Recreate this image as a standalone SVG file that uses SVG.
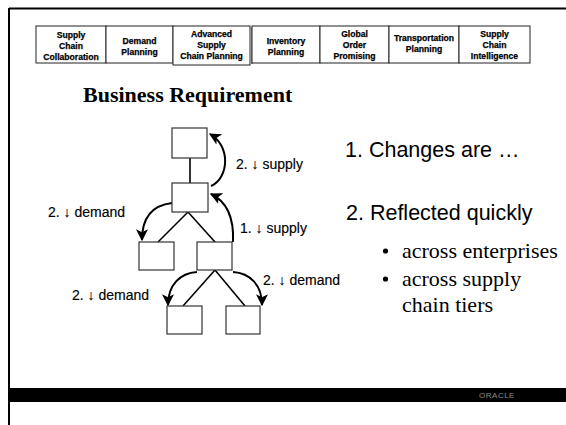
<svg xmlns="http://www.w3.org/2000/svg" width="566" height="425" viewBox="0 0 566 425">
<style>
.tab{fill:#fff;stroke:#222;stroke-width:1}
.tt{font-family:"Liberation Sans",Arial,sans-serif;font-weight:bold;font-size:8.6px;text-anchor:middle;fill:#000;stroke:#000;stroke-width:0.25}
.box{fill:#fff;stroke:#333;stroke-width:1.2}
.tree{stroke:#000;stroke-width:1.6;fill:none}
.arr{stroke:#000;stroke-width:2;fill:none;marker-end:url(#ah)}
.lbl{font-family:"Liberation Sans",Arial,sans-serif;font-size:14px;fill:#000;stroke:#000;stroke-width:0.15}
.big{font-family:"Liberation Sans",Arial,sans-serif;font-size:21.5px;fill:#000}
.ser{font-family:"Liberation Serif","Times New Roman",serif;font-size:22px;fill:#000}
</style>
<defs>
<marker id="ah" viewBox="0 0 10 10" refX="9" refY="5" markerWidth="6" markerHeight="6" orient="auto" markerUnits="strokeWidth">
<path d="M0,0 L10,5 L0,10 L2.5,5 Z" fill="#000"/>
</marker>
</defs>
<rect width="566" height="425" fill="#fff"/>
<g id="frame">
<line x1="9" y1="8.5" x2="566" y2="8.5" stroke="#000" stroke-width="2"/>
<line x1="9" y1="8" x2="9" y2="425" stroke="#000" stroke-width="2"/>
<rect x="9" y="388" width="557" height="14" fill="#000"/>
<text x="497" y="398" font-family="Liberation Sans,Arial,sans-serif" font-size="8" fill="#8a8a8a" text-anchor="middle" letter-spacing="0.5">ORACLE</text>
</g>
<g id="tabs">
<g id="tab1"><rect class="tab" x="36" y="26" width="70" height="37"/><text class="tt" x="71" y="38">Supply</text><text class="tt" x="71" y="49">Chain</text><text class="tt" x="71" y="60">Collaboration</text></g>
<g id="tab2"><rect class="tab" x="106" y="26" width="67" height="37"/><text class="tt" x="139.5" y="44">Demand</text><text class="tt" x="139.5" y="55">Planning</text></g>
<g id="tab3"><rect class="tab" x="173" y="26" width="77" height="39" stroke-width="1.4"/><line x1="252" y1="27" x2="252" y2="64" stroke="#222" stroke-width="1"/><text class="tt" x="211.5" y="37">Advanced</text><text class="tt" x="211.5" y="48">Supply</text><text class="tt" x="211.5" y="59">Chain Planning</text></g>
<g id="tab4"><rect class="tab" x="252" y="26" width="68" height="37"/><text class="tt" x="286" y="44">Inventory</text><text class="tt" x="286" y="55">Planning</text></g>
<g id="tab5"><rect class="tab" x="320" y="26" width="69" height="37"/><text class="tt" x="354.5" y="37">Global</text><text class="tt" x="354.5" y="48">Order</text><text class="tt" x="354.5" y="59">Promising</text></g>
<g id="tab6"><rect class="tab" x="389" y="26" width="70" height="37"/><text class="tt" x="424" y="41">Transportation</text><text class="tt" x="424" y="52">Planning</text></g>
<g id="tab7"><rect class="tab" x="459" y="26" width="71" height="37"/><text class="tt" x="494.5" y="37">Supply</text><text class="tt" x="494.5" y="48">Chain</text><text class="tt" x="494.5" y="59">Intelligence</text></g>
</g>
<text x="83" y="102" font-family="Liberation Serif,'Times New Roman',serif" font-weight="bold" font-size="22px">Business Requirement</text>
<g id="connectors">
<path class="tree" d="M190,158 L190,183"/>
<path class="tree" d="M188,212 L158,242"/>
<path class="tree" d="M188,212 L215,242"/>
<path class="tree" d="M215,270 L183,306"/>
<path class="tree" d="M215,270 L245,306"/>
<path class="arr" d="M211,186 C229,178 231,146 210,134"/>
<path class="arr" d="M233,242 C234,220 228,202 211,194"/>
<path class="arr" d="M172,203 C155,205 142,215 142,240"/>
<path class="arr" d="M197,272 C180,273 168,285 168,305"/>
<path class="arr" d="M233,272 C250,273 262,285 262,305"/>
<text class="lbl" x="236" y="169">2. ↓ supply</text>
<text class="lbl" x="240" y="233">1. ↓ supply</text>
<text class="lbl" x="48" y="217">2. ↓ demand</text>
<text class="lbl" x="72" y="300">2. ↓ demand</text>
<text class="lbl" x="263" y="285">2. ↓ demand</text>
</g>
<g id="n1"><rect class="box" x="172" y="128" width="35" height="30"/></g>
<g id="n2"><rect class="box" x="172" y="183" width="36" height="29"/></g>
<g id="n3"><rect class="box" x="139" y="242" width="35" height="28"/></g>
<g id="n4"><rect class="box" x="197" y="242" width="35" height="28"/></g>
<g id="n5"><rect class="box" x="167" y="306" width="35" height="28"/></g>
<g id="n6"><rect class="box" x="226" y="306" width="34" height="28"/></g>
<g id="points">
<text class="big" x="345" y="157">1. Changes are …</text>
<text class="big" x="346" y="220">2. Reflected quickly</text>
<circle cx="385.5" cy="251" r="2.6" fill="#000"/>
<text class="ser" x="402" y="258">across enterprises</text>
<circle cx="385.5" cy="279" r="2.6" fill="#000"/>
<text class="ser" x="402" y="286">across supply</text>
<text class="ser" x="402" y="312">chain tiers</text>
</g>
</svg>
